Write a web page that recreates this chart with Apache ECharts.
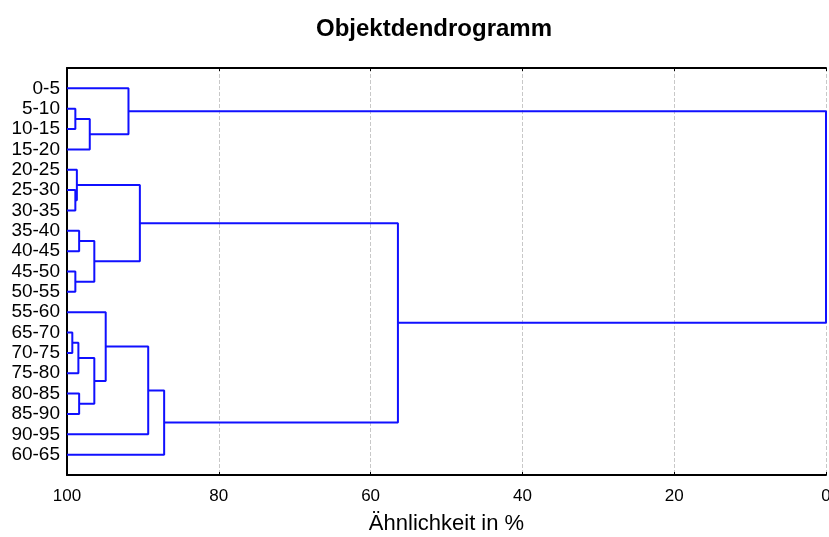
<!DOCTYPE html>
<html>
<head>
<meta charset="utf-8">
<script src="https://cdn.jsdelivr.net/npm/echarts@6/dist/echarts.min.js"></script>
<style>
  html, body { margin: 0; padding: 0; background: #fff; }
  #chart { width: 829px; height: 537px; }
</style>
</head>
<body>
<div id="chart"></div>
<script>
// leaves, top to bottom
const leaves = ['0-5', '5-10', '10-15', '15-20', '20-25', '25-30', '30-35', '35-40', '40-45',
  '45-50', '50-55', '55-60', '65-70', '70-75', '75-80', '80-85', '85-90', '90-95', '60-65'];

// merges: [child a, child b, similarity %]; ids >= leaves.length are earlier merges
const merges = [
  [1, 2, 98.9],
  [19, 3, 97.0],
  [0, 20, 91.9],
  [5, 6, 98.9],
  [4, 22, 98.7],
  [7, 8, 98.4],
  [9, 10, 98.9],
  [24, 25, 96.4],
  [23, 26, 90.4],
  [12, 13, 99.3],
  [28, 14, 98.5],
  [15, 16, 98.4],
  [29, 30, 96.4],
  [11, 31, 94.9],
  [32, 17, 89.3],
  [33, 18, 87.2],
  [27, 34, 56.4],
  [21, 35, 0]
];

const xTicks = [0, 20, 40, 60, 80, 100];

// node positions (leaf index for y, similarity for x)
const nodeY = leaves.map((_, i) => i);
const nodeX = leaves.map(() => 100);
const links = [];
merges.forEach(([a, b, h]) => {
  links.push([[nodeX[a], nodeY[a]], [h, nodeY[a]], [h, nodeY[b]], [nodeX[b], nodeY[b]]]);
  nodeX.push(h);
  nodeY.push((nodeY[a] + nodeY[b]) / 2);
});

const chart = echarts.init(document.getElementById('chart'));
const font = 'Liberation Sans, Arial, sans-serif';

const option = {
  animation: false,
  title: {
    text: 'Objektdendrogramm',
    left: 311,
    top: 12,
    textStyle: { fontFamily: font, fontSize: 24, fontWeight: 'bold', color: '#000' }
  },
  grid: { left: 67, right: 3, top: 68, bottom: 62, outerBoundsMode: 'none', containLabel: false },
  xAxis: [
    {
      type: 'value',
      inverse: true,
      min: 0,
      max: 100,
      interval: 20,
      name: 'Ähnlichkeit in %',
      nameLocation: 'middle',
      nameGap: 38,
      nameTextStyle: { fontFamily: font, fontSize: 22, color: '#000' },
      axisLine: { onZero: false, lineStyle: { color: '#000', width: 2 } },
      axisTick: { inside: true, length: 3, lineStyle: { color: '#000' } },
      axisLabel: { fontFamily: font, fontSize: 17, color: '#000', margin: 13,
        formatter: v => xTicks.includes(v) ? String(v) : '' },
      splitLine: { show: true, lineStyle: { color: '#c8c8c8', type: 'dashed', width: 1 } }
    },
    {
      type: 'value',
      position: 'top',
      inverse: true,
      min: 0,
      max: 100,
      interval: 20,
      axisLine: { onZero: false, lineStyle: { color: '#000', width: 2 } },
      axisTick: { inside: true, length: 3, lineStyle: { color: '#000' } },
      axisLabel: { show: false },
      splitLine: { show: false }
    }
  ],
  yAxis: {
    type: 'value',
    inverse: true,
    position: 'left',
    min: -1,
    max: 19,
    interval: 1,
    axisLine: { show: true, onZero: false, lineStyle: { color: '#000', width: 2 } },
    axisTick: { show: false },
    axisLabel: { fontFamily: font, fontSize: 19, color: '#000', margin: 7,
      formatter: v => leaves[v] || '' },
    splitLine: { show: false }
  },
  series: links.map(pts => ({
    type: 'line',
    data: pts,
    symbol: 'none',
    silent: true,
    lineStyle: { color: '#1010ff', width: 2 }
  }))
};

chart.setOption(option);
</script>
</body>
</html>
